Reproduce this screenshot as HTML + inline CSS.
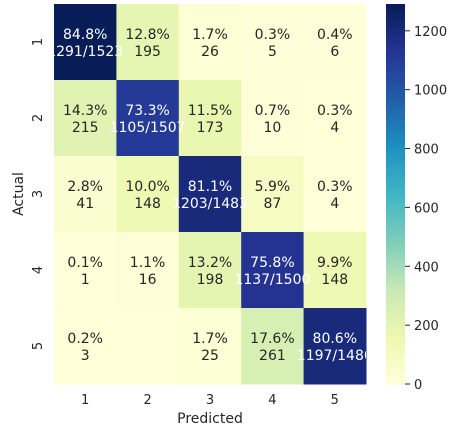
<!DOCTYPE html>
<html><head><meta charset="utf-8"><style>
html,body{margin:0;padding:0;background:#fff;}
svg{display:block;font-family:"DejaVu Sans","Liberation Sans",sans-serif;}
</style></head><body>
<svg id="chart" width="459" height="434" viewBox="0 0 459 434"><defs><clipPath id="hm"><rect x="54" y="4" width="312" height="380"/></clipPath></defs></svg>
<script>
const labels = ["1","2","3","4","5"];
const row1 = [1291,195,26,5,6];
const row2 = [215,1105,173,10,4];
const row3 = [41,148,1203,87,4];
const row4 = [1,16,198,1137,148];
const row5 = [3,0,25,261,1197];
const colorTicks = [0,200,400,600,800,1000,1200];
const vmax = 1291;

const rows = [row1,row2,row3,row4,row5];
const NS = "http://www.w3.org/2000/svg";
const svg = document.getElementById('chart');
const X0=54, Y0=4, W=312, H=380;
const cw = W/labels.length, ch = H/labels.length;
const stops = ["#ffffd9","#edf8b1","#c7e9b4","#7fcdbb","#41b6c4","#1d91c0","#225ea8","#253494","#081d58"].map(h=>[parseInt(h.substr(1,2),16),parseInt(h.substr(3,2),16),parseInt(h.substr(5,2),16)]);
function cmap(v){let t=Math.max(0,Math.min(1,v/vmax))*(stops.length-1);let i=Math.min(Math.floor(t),stops.length-2);let f=t-i;
 const c=stops[i].map((a,k)=>Math.round(a+(stops[i+1][k]-a)*f));return c;}
function rgb(c){return `rgb(${c[0]},${c[1]},${c[2]})`;}
function mk(tag,attrs,txt,parent){const e=document.createElementNS(NS,tag);for(const k in attrs)e.setAttribute(k,attrs[k]);if(txt!==undefined)e.textContent=txt;(parent||svg).appendChild(e);return e;}
const xs = i => X0 + i*cw;
const ys = j => Y0 + j*ch;
rows.forEach((r,j)=>{r.forEach((v,i)=>{
 const e=mk('rect',{x:xs(i),y:ys(j),width:cw+0.5,height:ch+0.5,fill:rgb(cmap(v))});
 
 
});});
const ag=mk('g',{'clip-path':'url(#hm)'});


rows.forEach((r,j)=>{const sum=r.reduce((a,b)=>a+b,0);r.forEach((v,i)=>{
 if(v===0)return;
 const c=cmap(v);const lum=(0.299*c[0]+0.587*c[1]+0.114*c[2]);
 const col=lum<140?'#ffffff':'#262626';
 const pct=(100*v/sum).toFixed(1)+'%';
 const second=(i===j)?(v+'/'+sum):String(v);
 const cx=xs(i)+cw/2, cy=ys(j)+ch/2;
 const t1=mk('text',{x:cx,y:cy-3,'text-anchor':'middle','font-size':'14',fill:col},pct,ag);
 
 
 const t2=mk('text',{x:cx,y:cy+14,'text-anchor':'middle','font-size':'14',fill:col},second,ag);
 
 
});});
labels.forEach((l,i)=>{const t=mk('text',{x:xs(i)+cw/2,y:404,'text-anchor':'middle','font-size':'13',fill:'#262626'},l);
 });
labels.forEach((l,j)=>{const cy=ys(j)+ch/2;const t=mk('text',{x:0,y:0,transform:`translate(42,${cy}) rotate(-90)`,'text-anchor':'middle','font-size':'13',fill:'#262626'},l);
 });
let xt=mk('text',{x:X0+W/2,y:423,'text-anchor':'middle','font-size':'14',fill:'#262626'},'Predicted');

let yt=mk('text',{x:0,y:0,transform:`translate(23,${Y0+H/2}) rotate(-90)`,'text-anchor':'middle','font-size':'14',fill:'#262626'},'Actual');

const CX=386, CW=19;
const n=190;
for(let k=0;k<n;k++){const v0=vmax*k/n;const hh=H/n;
 const e=mk('rect',{x:CX,y:Y0+H-(k+1)*hh,width:CW,height:hh+0.6,fill:rgb(cmap(v0+vmax/(2*n)))});
 }
colorTicks.forEach(v=>{const y=Y0+H-H*v/vmax;
 const ln=mk('line',{x1:CX+CW,x2:CX+CW+5,y1:y,y2:y,stroke:'#262626','stroke-width':'1'});
 
 const t=mk('text',{x:CX+CW+9,y:y+5,'font-size':'13',fill:'#262626'},String(v));
 });
</script>
</body></html>
